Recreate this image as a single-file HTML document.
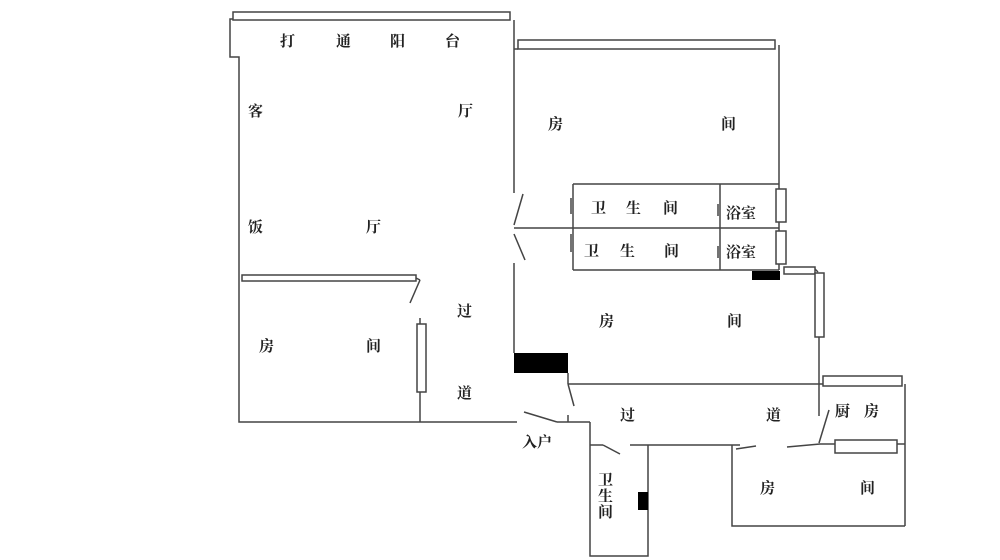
<!DOCTYPE html>
<html><head><meta charset="utf-8"><style>
html,body{margin:0;padding:0;background:#fff;}
svg{display:block;}
text{font-family:"Liberation Serif","Noto Serif CJK SC",serif;font-size:15px;font-weight:bold;fill:#222;}
</style></head><body>
<svg width="1000" height="560" viewBox="0 0 1000 560" xmlns="http://www.w3.org/2000/svg">
<g stroke="#444" stroke-width="1.5" fill="none">
<!-- top balcony -->
<rect x="233" y="12" width="277" height="8" fill="#fff"/>
<polyline points="233,19 230,19 230,57 239,57 239,422 517,422"/>
<line x1="514" y1="20" x2="514" y2="193"/>
<line x1="514" y1="263" x2="514" y2="353"/>
<!-- living room doors -->
<line x1="523" y1="194" x2="514" y2="225"/>
<line x1="514" y1="234" x2="525" y2="260"/>
<!-- top right room -->
<rect x="518" y="40" width="257" height="9" fill="#fff"/>
<line x1="514" y1="49" x2="518" y2="49"/>
<line x1="779" y1="45" x2="779" y2="270"/>
<!-- bathrooms -->
<line x1="573" y1="184" x2="779" y2="184"/>
<line x1="514" y1="228" x2="779" y2="228"/>
<line x1="573" y1="270" x2="779" y2="270"/>
<line x1="573" y1="184" x2="573" y2="270"/>
<line x1="720" y1="184" x2="720" y2="270"/>
<line x1="571" y1="198" x2="571" y2="214"/>
<line x1="571" y1="234" x2="571" y2="252"/>
<line x1="718" y1="204" x2="718" y2="216"/>
<line x1="718" y1="246" x2="718" y2="258"/>
<rect x="776" y="189" width="10" height="33" fill="#fff"/>
<rect x="776" y="231" width="10" height="33" fill="#fff"/>
<rect x="784" y="267" width="31" height="7" fill="#fff"/>
<line x1="815" y1="269" x2="818" y2="272"/>
<rect x="815" y="273" width="9" height="64" fill="#fff"/>
<line x1="819" y1="337" x2="819" y2="416"/>
<!-- middle left room -->
<rect x="242" y="275" width="174" height="6" fill="#fff"/>
<line x1="416" y1="278" x2="420" y2="280"/>
<line x1="420" y1="280" x2="410" y2="303"/>
<line x1="420" y1="318" x2="420" y2="324"/>
<rect x="417" y="324" width="9" height="68" fill="#fff"/>
<line x1="420" y1="392" x2="420" y2="422"/>
<!-- corridor -->
<line x1="568" y1="373" x2="568" y2="384"/>
<line x1="568" y1="384" x2="574" y2="406"/>
<line x1="568" y1="415" x2="568" y2="422"/>
<line x1="568" y1="384" x2="823" y2="384"/>
<rect x="823" y="376" width="79" height="10" fill="#fff"/>
<line x1="905" y1="384" x2="905" y2="526"/>
<!-- entry -->
<line x1="524" y1="412" x2="557" y2="422"/>
<line x1="557" y1="422" x2="590" y2="422"/>
<!-- small bath -->
<polyline points="590,422 590,556 648,556 648,445"/>
<line x1="590" y1="445" x2="603" y2="445"/>
<line x1="603" y1="445" x2="620" y2="454"/>
<line x1="630" y1="445" x2="740" y2="445"/>
<!-- right bottom room -->
<polyline points="732,445 732,526 905,526"/>
<line x1="736" y1="449" x2="756" y2="446"/>
<line x1="787" y1="447" x2="820" y2="444"/>
<line x1="820" y1="444" x2="835" y2="444"/>
<rect x="835" y="440" width="62" height="13" fill="#fff"/>
<line x1="897" y1="444" x2="905" y2="444"/>
<line x1="829" y1="410" x2="819" y2="443"/>
</g>
<g fill="#000">
<rect x="514" y="353" width="54" height="20"/>
<rect x="752" y="271" width="28" height="9"/>
<rect x="638" y="492" width="10" height="18"/>
</g>
<g>
<text x="280" y="46">打</text><text x="336" y="46">通</text><text x="390" y="46">阳</text><text x="445" y="46">台</text>
<text x="248" y="116">客</text><text x="458" y="116">厅</text>
<text x="248" y="232">饭</text><text x="366" y="232">厅</text>
<text x="548" y="129">房</text><text x="721" y="129">间</text>
<text x="591" y="213">卫</text><text x="626" y="213">生</text><text x="663" y="213">间</text>
<text x="726" y="218">浴室</text>
<text x="584" y="256">卫</text><text x="620" y="256">生</text><text x="664" y="256">间</text>
<text x="726" y="257">浴室</text>
<text x="599" y="326">房</text><text x="727" y="326">间</text>
<text x="457" y="316">过</text><text x="457" y="398">道</text>
<text x="259" y="351">房</text><text x="366" y="351">间</text>
<text x="620" y="420">过</text><text x="766" y="420">道</text>
<text x="835" y="416">厨</text><text x="864" y="416">房</text>
<text x="522" y="447">入户</text>
<text x="598" y="485">卫</text><text x="598" y="501">生</text><text x="598" y="517">间</text>
<text x="760" y="493">房</text><text x="860" y="493">间</text>
</g>
</svg>
</body></html>
